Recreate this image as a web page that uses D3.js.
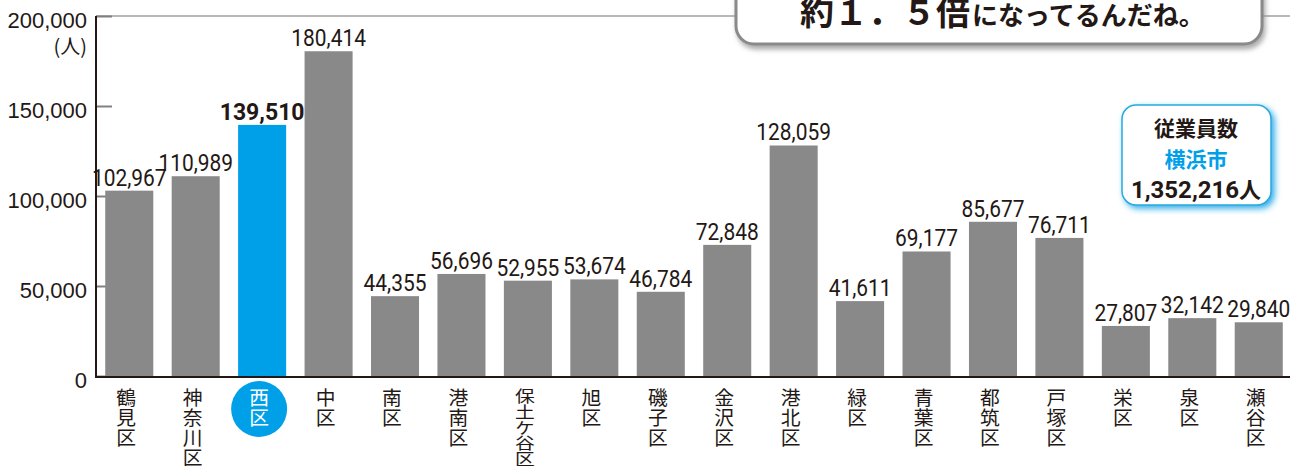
<!DOCTYPE html>
<html>
<head>
<meta charset="utf-8">
<script src="https://cdn.jsdelivr.net/npm/d3@7"></script>
<style>
  body { margin: 0; background: #fff; }
</style>
</head>
<body>
<script>
const wards = ["鶴見区", "神奈川区", "西区", "中区", "南区", "港南区", "保土ケ谷区", "旭区", "磯子区",
    "金沢区", "港北区", "緑区", "青葉区", "都筑区", "戸塚区", "栄区", "泉区", "瀬谷区"];
const employees = [102967, 110989, 139510, 180414, 44355, 56696, 52955, 53674, 46784,
    72848, 128059, 41611, 69177, 85677, 76711, 27807, 32142, 29840];
const highlightWard = "西区";
const yTicks = [0, 50000, 100000, 150000, 200000];
const yUnit = "(人)";
const bubbleBig = "約１．５倍";
const bubbleSmall = "になってるんだね。";
const legendLines = ["従業員数", "横浜市", "1,352,216"];
const legendUnit = "人";

function main(){
    const canvasWidth = 1290;
    const canvasHeight = 466;
    const ink = "#231815";
    const jp = "'Noto Sans CJK JP', sans-serif";
    const num = "'Liberation Sans', Arial, sans-serif";
    const rob = "Roboto, sans-serif";

    const svg = d3.select("body").append("svg")
        .attr("width", canvasWidth)
        .attr("height", canvasHeight)

    const defs = svg.append("defs");
    defs.append("filter").attr("id", "grayShadow")
        .attr("x", "-10%").attr("y", "-10%").attr("width", "120%").attr("height", "140%")
        .append("feDropShadow")
        .attr("dx", 2).attr("dy", 4).attr("stdDeviation", 2.5)
        .attr("flood-color", "#888").attr("flood-opacity", 0.7);
    defs.append("filter").attr("id", "blueShadow")
        .attr("x", "-20%").attr("y", "-20%").attr("width", "150%").attr("height", "150%")
        .append("feDropShadow")
        .attr("dx", 3).attr("dy", 3).attr("stdDeviation", 3)
        .attr("flood-color", "#1fa6e6").attr("flood-opacity", 0.9);

    const x = d3.scaleBand()
        .domain(wards)
        .range([96, 1292])
        .paddingInner(0.277)
        .paddingOuter(0.139)

    const y = d3.scaleLinear()
        .domain([0, 200000])
        .range([376, 16])

    // full line at the top value
    svg.append("line")
        .attr("x1", 96).attr("x2", canvasWidth)
        .attr("y1", y(200000)).attr("y2", y(200000))
        .attr("stroke", "#a0a0a0").attr("stroke-width", 1.5)

    // y axis: ticks point into the chart
    const yAxis = svg.append("g")
        .attr("transform", "translate(96,0)")
        .call(d3.axisRight(y).tickValues(yTicks).tickSize(16).tickFormat(""))
    yAxis.select(".domain").remove()
    yAxis.selectAll(".tick line").attr("stroke", "#808080").attr("stroke-width", 2)

    svg.append("g").selectAll("text")
        .data(yTicks)
        .join("text")
        .attr("x", 87)
        .attr("y", d => y(d) + 12)
        .attr("text-anchor", "end")
        .attr("font-family", num)
        .attr("font-size", "22px")
        .attr("fill", ink)
        .text(d => d3.format(",")(d))

    svg.append("text")
        .attr("x", 87)
        .attr("y", y(200000) + 38)
        .attr("text-anchor", "end")
        .attr("font-family", jp)
        .attr("font-size", "20px")
        .attr("fill", ink)
        .text(yUnit)

    const rows = wards.map((w, i) => ({ward: w, value: employees[i]}));

    svg.append("g").selectAll("rect")
        .data(rows)
        .join("rect")
        .attr("x", d => x(d.ward))
        .attr("y", d => y(d.value))
        .attr("width", x.bandwidth())
        .attr("height", d => y(0) - y(d.value))
        .attr("fill", d => d.ward === highlightWard ? "#00a0e9" : "#898989")

    // value labels, narrow like the printed original
    svg.append("g").selectAll("text")
        .data(rows)
        .join("text")
        .attr("transform", d => "translate(" + (x(d.ward) + x.bandwidth() / 2) + "," + (y(d.value) - 5) + ")"
            + (d.ward === highlightWard ? "" : " scale(0.91,1)"))
        .attr("text-anchor", "middle")
        .attr("font-family", rob)
        .attr("font-weight", d => d.ward === highlightWard ? "bold" : "normal")
        .attr("font-size", "23px")
        .attr("fill", ink)
        .text(d => d3.format(",")(d.value))

    // axes lines
    svg.append("line")
        .attr("x1", 96).attr("x2", 96)
        .attr("y1", y(200000)).attr("y2", y(0) + 1)
        .attr("stroke", ink).attr("stroke-width", 2)
    svg.append("line")
        .attr("x1", 95).attr("x2", canvasWidth)
        .attr("y1", y(0) + 1).attr("y2", y(0) + 1)
        .attr("stroke", ink).attr("stroke-width", 2)

    // ward names, written vertically
    const labels = svg.append("g").selectAll("g")
        .data(rows)
        .join("g")
        .attr("transform", d => "translate(" + (x(d.ward) + x.bandwidth() / 2 - 3) + ",0)")

    labels.filter(d => d.ward === highlightWard)
        .append("circle")
        .attr("cx", 0).attr("cy", 409).attr("r", 28)
        .attr("fill", "#00a0e9")

    labels.append("text")
        .attr("transform", d => "translate(0,388)" + (d.ward.length > 4 ? " scale(1,0.8)" : ""))
        .attr("writing-mode", "vertical-rl")
        .attr("font-family", jp)
        .attr("font-size", "19.8px")
        .attr("fill", d => d.ward === highlightWard ? "#fff" : ink)
        .text(d => d.ward)

    // speech bubble
    svg.append("rect")
        .attr("x", 736).attr("y", -40)
        .attr("width", 526).attr("height", 84)
        .attr("rx", 18)
        .attr("fill", "#fff")
        .attr("stroke", "#8a8a8a").attr("stroke-width", 3)
        .attr("filter", "url(#grayShadow)")

    const bubbleText = svg.append("text")
        .attr("x", 800).attr("y", 25)
        .attr("font-family", jp)
        .attr("font-weight", "bold")
        .attr("fill", ink)
    bubbleText.append("tspan").attr("font-size", "34px").text(bubbleBig)
    bubbleText.append("tspan").attr("font-size", "26px").attr("dx", 2).text(bubbleSmall)

    // legend box
    svg.append("rect")
        .attr("x", 1122).attr("y", 105)
        .attr("width", 149).attr("height", 100)
        .attr("rx", 14)
        .attr("fill", "#fff")
        .attr("stroke", "#29a9e0").attr("stroke-width", 1.5)
        .attr("filter", "url(#blueShadow)")

    svg.append("text")
        .attr("x", 1196).attr("y", 136)
        .attr("text-anchor", "middle")
        .attr("font-family", jp).attr("font-weight", "bold")
        .attr("font-size", "21px").attr("fill", ink)
        .text(legendLines[0])
    svg.append("text")
        .attr("x", 1196).attr("y", 167)
        .attr("text-anchor", "middle")
        .attr("font-family", jp).attr("font-weight", "bold")
        .attr("font-size", "21px").attr("fill", "#00a0e9")
        .text(legendLines[1])
    const total = svg.append("text")
        .attr("x", 1196).attr("y", 198)
        .attr("text-anchor", "middle")
        .attr("font-weight", "bold").attr("fill", ink)
    total.append("tspan").attr("font-family", rob).attr("font-size", "24px").text(legendLines[2])
    total.append("tspan").attr("font-family", jp).attr("font-size", "22px").text(legendUnit)
}
main();
</script>
</body>
</html>
